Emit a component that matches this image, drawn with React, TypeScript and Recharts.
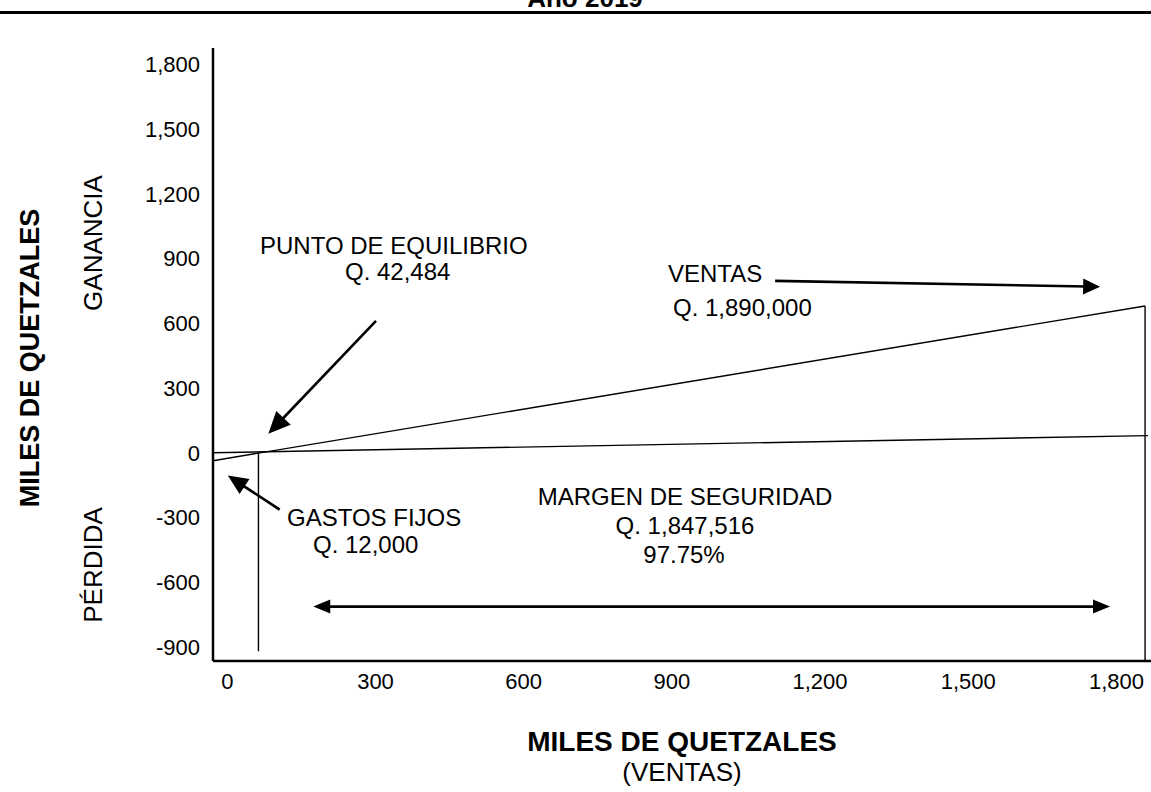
import { Line, LineChart, ReferenceLine, XAxis, YAxis } from "recharts";

const xTicks = [0, 300, 600, 900, 1200, 1500, 1800];
const yTicks = [-900, -600, -300, 0, 300, 600, 900, 1200, 1500, 1800];

// lines of the chart (miles de quetzales)
const ventasLine = [
  { x: -29, y: -37 },
  { x: 1858, y: 680 },
];
const gastosLine = [
  { x: -29, y: 0 },
  { x: 1864, y: 79 },
];
const equilibrioLine = [
  { x: 63, y: 3 },
  { x: 63, y: -920 },
];
const ventasTope = [
  { x: 1858, y: 680 },
  { x: 1858, y: -965 },
];

// annotation arrows [from, to]
const arrowEquilibrio = [
  { x: 301, y: 611 },
  { x: 83, y: 88 },
];
const arrowGastos = [
  { x: 106, y: -264 },
  { x: 1, y: -106 },
];
const arrowVentas = [
  { x: 1109, y: 796 },
  { x: 1767, y: 769 },
];
const arrowMargen = [
  { x: 174, y: -713 },
  { x: 1787, y: -713 },
];

const font = '"Liberation Sans", Arial, sans-serif';

function head(tx: number, ty: number, ux: number, uy: number, len: number, half: number) {
  const bx = tx - ux * len;
  const by = ty - uy * len;
  return `${tx},${ty} ${bx - uy * half},${by + ux * half} ${bx + uy * half},${by - ux * half}`;
}

function arrowShape(both: boolean, len: number, half: number) {
  return (p: any) => {
    const { x1, y1, x2, y2 } = p;
    const dx = x2 - x1;
    const dy = y2 - y1;
    const d = Math.hypot(dx, dy) || 1;
    const ux = dx / d;
    const uy = dy / d;
    const sx = both ? x1 + ux * len * 0.8 : x1;
    const sy = both ? y1 + uy * len * 0.8 : y1;
    return (
      <g>
        <line
          x1={sx}
          y1={sy}
          x2={x2 - ux * len * 0.8}
          y2={y2 - uy * len * 0.8}
          stroke="#000"
          strokeWidth={2.6}
        />
        <polygon points={head(x2, y2, ux, uy, len, half)} fill="#000" />
        {both ? <polygon points={head(x1, y1, -ux, -uy, len, half)} fill="#000" /> : null}
      </g>
    );
  };
}

function Text({
  x,
  y,
  size = 24,
  bold = false,
  rotate = false,
  start = false,
  children,
}: {
  x: number;
  y: number;
  size?: number;
  bold?: boolean;
  rotate?: boolean;
  start?: boolean;
  children: string;
}) {
  return (
    <div
      style={{
        position: "absolute",
        left: x,
        top: y,
        transform: `translate(${start ? "0" : "-50%"}, -50%)${rotate ? " rotate(-90deg)" : ""}`,
        whiteSpace: "nowrap",
        fontSize: size,
        fontWeight: bold ? 700 : 400,
        lineHeight: 1,
        color: "#000",
      }}
    >
      {children}
    </div>
  );
}

const fmt = (v: number) => v.toLocaleString("en-US");

export default function App() {
  const lineProps = {
    dataKey: "y",
    stroke: "#000",
    strokeWidth: 1.4,
    dot: false,
    activeDot: false,
    isAnimationActive: false,
  } as const;

  return (
    <div
      style={{
        position: "absolute",
        left: 0,
        top: 0,
        width: 1151,
        height: 792,
        background: "#fff",
        overflow: "hidden",
        fontFamily: font,
      }}
    >
      <Text x={585} y={-2} size={26} bold>
        Año 2019
      </Text>
      <div style={{ position: "absolute", left: 0, top: 11, width: 1151, height: 3, background: "#000" }} />

      <LineChart width={1151} height={792} margin={{ top: 48, right: 0, bottom: 91, left: 153 }}>
        <XAxis
          dataKey="x"
          type="number"
          domain={[-29, 1870]}
          ticks={xTicks}
          tickFormatter={fmt}
          height={40}
          tickLine={false}
          tickSize={6}
          tickMargin={6}
          axisLine={{ stroke: "#000", strokeWidth: 2.5 }}
          tick={{ fill: "#000", fontSize: 22, fontFamily: font }}
          interval={0}
        />
        <YAxis
          type="number"
          domain={[-965, 1875]}
          ticks={yTicks}
          tickFormatter={fmt}
          width={60}
          tickLine={false}
          tickSize={6}
          tickMargin={7}
          axisLine={{ stroke: "#000", strokeWidth: 2.5 }}
          tick={{ fill: "#000", fontSize: 22, fontFamily: font }}
          interval={0}
        />
        <Line data={ventasLine} {...lineProps} />
        <Line data={gastosLine} {...lineProps} />
        <Line data={equilibrioLine} {...lineProps} />
        <Line data={ventasTope} {...lineProps} />
        <ReferenceLine segment={arrowEquilibrio} ifOverflow="visible" shape={arrowShape(false, 22, 10)} />
        <ReferenceLine segment={arrowGastos} ifOverflow="visible" shape={arrowShape(false, 20, 9)} />
        <ReferenceLine segment={arrowVentas} ifOverflow="visible" shape={arrowShape(false, 17, 8)} />
        <ReferenceLine segment={arrowMargen} ifOverflow="visible" shape={arrowShape(true, 17, 7)} />
      </LineChart>

      <Text x={260} y={246} start>PUNTO DE EQUILIBRIO</Text>
      <Text x={345} y={272} start>Q. 42,484</Text>
      <Text x={668} y={274} start>VENTAS</Text>
      <Text x={673} y={308} start>Q. 1,890,000</Text>
      <Text x={287} y={518} start>GASTOS FIJOS</Text>
      <Text x={313} y={545} start>Q. 12,000</Text>
      <Text x={685} y={497}>MARGEN DE SEGURIDAD</Text>
      <Text x={685} y={526}>Q. 1,847,516</Text>
      <Text x={684} y={555}>97.75%</Text>

      <Text x={682} y={742} size={28} bold>
        MILES DE QUETZALES
      </Text>
      <Text x={682} y={772} size={26}>(VENTAS)</Text>
      <Text x={30} y={358} size={27} bold rotate>
        MILES DE QUETZALES
      </Text>
      <Text x={93} y={243} size={26} rotate>
        GANANCIA
      </Text>
      <Text x={93} y={565} size={26} rotate>
        PÉRDIDA
      </Text>
    </div>
  );
}
